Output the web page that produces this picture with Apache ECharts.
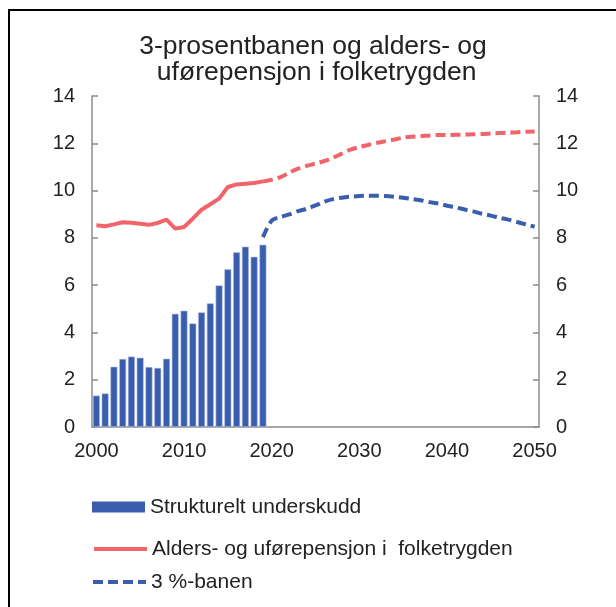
<!DOCTYPE html>
<html>
<head>
<meta charset="utf-8">
<script src="https://cdn.jsdelivr.net/npm/echarts@6/dist/echarts.min.js"></script>
<style>
  html, body { margin: 0; padding: 0; background: #fff; }
  #chart { width: 616px; height: 607px; }
</style>
</head>
<body>
<div id="chart"></div>
<script>
// years on the x axis, 2000 - 2050
const years = []
for (let y = 2000; y <= 2050; y++) years.push(String(y))

// Strukturelt underskudd, 2000 - 2019
const underskudd = [1.33, 1.42, 2.55, 2.88, 2.98, 2.93, 2.54, 2.50, 2.89, 4.79,
  4.92, 4.38, 4.85, 5.23, 5.99, 6.67, 7.39, 7.63, 7.20, 7.71]

// Alders- og uførepensjon, history 2000 - 2019
const pensjonHist = [8.53, 8.49, 8.57, 8.66, 8.64, 8.60, 8.55, 8.63, 8.77, 8.39,
  8.46, 8.81, 9.19, 9.42, 9.66, 10.15, 10.26, 10.29, 10.32, 10.39]

// Alders- og uførepensjon, projection 2019 - 2050
const pensjonProj = [10.39, 10.46, 10.57, 10.76, 10.93, 11.05, 11.14, 11.25, 11.39, 11.56,
  11.73, 11.84, 11.93, 12.02, 12.09, 12.16, 12.24, 12.28, 12.30, 12.33,
  12.35, 12.35, 12.36, 12.37, 12.38, 12.39, 12.41, 12.43, 12.45, 12.47, 12.49, 12.50]

// 3 %-banen, 2019 - 2050
const prosentBanen = [8.03, 8.73, 8.88, 8.99, 9.13, 9.23, 9.37, 9.53, 9.64, 9.70,
  9.74, 9.77, 9.78, 9.78, 9.77, 9.74, 9.70, 9.64, 9.59, 9.51,
  9.45, 9.36, 9.29, 9.20, 9.12, 9.02, 8.94, 8.85, 8.77, 8.67, 8.57, 8.47]

const yTicks = [0, 2, 4, 6, 8, 10, 12, 14]

// projections start at 2019
const padTo2019 = arr => new Array(19).fill(null).concat(arr)

const RED = '#F0646A'
const BLUE = '#3A5DAE'
const AXIS = '#8c8c8c'
const FONT = 'Liberation Sans, Arial, sans-serif'

const chart = echarts.init(document.getElementById('chart'))

const yAxisBase = {
  type: 'value',
  min: yTicks[0],
  max: yTicks[yTicks.length - 1],
  interval: 2,
  splitLine: { show: false },
  axisLine: { show: true, lineStyle: { color: AXIS, width: 1.5 } },
  axisTick: { show: true, inside: true, length: 6, lineStyle: { color: AXIS, width: 1.5 } },
  axisLabel: { color: '#222', fontSize: 20, fontFamily: FONT, margin: 17 }
}

const legendText = { color: '#222', fontSize: 21, fontFamily: FONT, lineHeight: 22 }

chart.setOption({
  animation: false,
  title: {
    text: '3-prosentbanen og alders- og\n uførepensjon i folketrygden',
    left: 308,
    textAlign: 'center',
    top: 29,
    textStyle: { color: '#222', fontSize: 26.5, fontWeight: 'normal', fontFamily: FONT, lineHeight: 26 }
  },
  grid: { left: 92, right: 77, top: 96, bottom: 180 },
  legend: [
    {
      left: 92, top: 496, padding: 0, itemWidth: 53, itemHeight: 11, selectedMode: false,
      textStyle: legendText,
      itemStyle: { borderWidth: 0 },
      data: [{ name: 'Strukturelt underskudd', icon: 'rect' }]
    },
    {
      left: 92, top: 538, padding: 0, itemWidth: 53, itemHeight: 11, selectedMode: false,
      textStyle: legendText,
      lineStyle: { width: 4 },
      itemStyle: { opacity: 0 },
      data: ['Alders- og uførepensjon i  folketrygden']
    },
    {
      left: 91, top: 571, padding: 0, itemWidth: 53, itemHeight: 11, selectedMode: false,
      textStyle: legendText,
      lineStyle: { width: 4 },
      itemStyle: { opacity: 0 },
      data: ['3 %-banen']
    }
  ],
  xAxis: {
    type: 'category',
    data: years,
    boundaryGap: true,
    axisLine: { show: true, lineStyle: { color: AXIS, width: 1.5 } },
    axisTick: { show: false },
    axisLabel: {
      color: '#222', fontSize: 20, fontFamily: FONT, margin: 14,
      interval: idx => idx % 10 === 0
    }
  },
  yAxis: [
    Object.assign({}, yAxisBase, { position: 'left' }),
    Object.assign({}, yAxisBase, { position: 'right' })
  ],
  series: [
    {
      name: 'Strukturelt underskudd',
      type: 'bar',
      data: underskudd,
      barWidth: 7,
      itemStyle: { color: BLUE, borderColor: '#b7c5e6', borderWidth: 0.6 }
    },
    {
      name: 'Alders- og uførepensjon i  folketrygden',
      type: 'line',
      data: pensjonHist,
      symbol: 'none',
      lineStyle: { color: RED, width: 4 },
      itemStyle: { color: RED }
    },
    {
      name: 'pensjon-framskriving',
      type: 'line',
      data: padTo2019(pensjonProj),
      symbol: 'none',
      smooth: 0.3,
      lineStyle: { color: RED, width: 4, type: [10, 5] },
      itemStyle: { color: RED }
    },
    {
      name: '3 %-banen',
      type: 'line',
      data: padTo2019(prosentBanen),
      symbol: 'none',
      smooth: 0.3,
      lineStyle: { color: BLUE, width: 4, type: [10, 5] },
      itemStyle: { color: BLUE }
    }
  ],
  graphic: [
    // frame lines, top and left
    { type: 'line', shape: { x1: 8, y1: 10, x2: 616, y2: 10 }, style: { stroke: '#000', lineWidth: 2 } },
    { type: 'line', shape: { x1: 9, y1: 10, x2: 9, y2: 607 }, style: { stroke: '#000', lineWidth: 2 } }
  ]
})
</script>
</body>
</html>
